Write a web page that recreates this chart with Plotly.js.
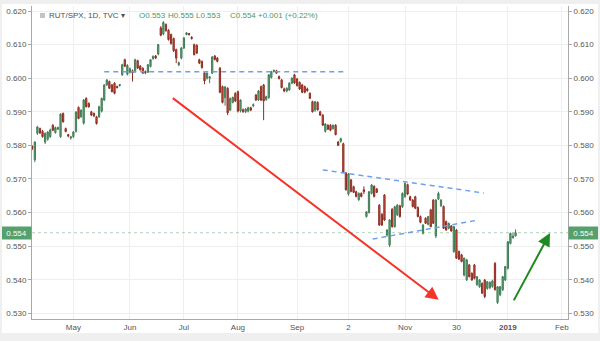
<!DOCTYPE html>
<html><head><meta charset="utf-8">
<script src="https://cdn.plot.ly/plotly-3.0.1.min.js"></script>
<style>
html,body{margin:0;padding:0;background:#efefef;width:600px;height:341px;overflow:hidden}
#chart{position:absolute;left:2px;top:4px;width:596px;height:329px;background:#fff}
</style></head><body><div id="chart"></div>
<script>
const startDate = '2018-04-09';
const holidays = ['2018-05-28','2018-07-04','2018-09-03','2018-11-22','2018-12-05','2018-12-25','2019-01-01','2019-01-21'];

const openVals = [
 // Apr
 .5797,.5757,.5836,.5850,.5842,.5810,.5818,.5826,.5860,.5838,.5848,.5826,.5895,.5850,.5832,.5822,
 // May
 .5826,.5842,.5913,.5885,.5866,.5940,.5925,.5900,.5895,.5885,.5885,.5902,.5935,.5980,.5990,.5980,.5985,.5975,.5978,.6010,.6055,.6012,
 // Jun
 .6018,.6022,.6020,.6052,.6036,.6030,.6020,.6018,.6035,.6058,.6066,.6072,.6150,.6132,.6160,.6143,.6130,.6118,.6085,.6040,.6060,
 // Jul
 .6090,.6130,.6133,.6122,.6100,.6098,.6055,.6050,.6016,.6000,.6000,.6015,.6066,.6060,.6030,.5975,.5942,.5970,.5905,.5928,.5955,
 // Aug
 .5960,.5903,.5906,.5900,.5902,.5912,.5918,.5950,.5935,.5975,.5980,.5936,.5942,.6002,.6020,.6022,.6005,.5995,.5968,.5962,.5965,.5985,.6010,
 // Sep
 .5998,.5988,.5980,.5975,.5968,.5955,.5930,.5905,.5928,.5900,.5890,.5842,.5860,.5860,.5850,.5860,.5810,.5812,.5805,
 // Oct
 .5718,.5655,.5697,.5677,.5662,.5638,.5657,.5668,.5588,.5600,.5657,.5678,.5670,.5622,.5595,.5652,.5533,.5503,.5610,.5558,.5593,.5620,.5617,
 // Nov
 .5647,.5683,.5647,.5637,.5647,.5615,.5588,.5538,.5583,.5565,.5608,.5637,.5530,.5640,.5620,.5618,.5573,.5553,.5560,.5484,.5548,
 // Dec
 .5484,.5474,.5414,.5400,.5444,.5419,.5444,.5385,.5379,.5389,.5399,.5374,.5376,.5380,.5449,.5332,.5355,.5370,.5399,
 // Jan
 .5434,.5508,.5525,.5530
];
const highVals = [
 .5800,.5812,.5858,.5853,.5846,.5838,.5842,.5850,.5863,.5856,.5856,.5896,.5898,.5853,.5834,.5828,
 .5842,.5902,.5916,.5907,.5938,.5943,.5928,.5903,.5898,.5888,.5918,.5942,.5982,.5997,.5993,.5983,.5988,.5978,.5983,.6043,.6058,.6042,
 .6032,.6026,.6058,.6055,.6039,.6032,.6023,.6042,.6057,.6068,.6069,.6102,.6155,.6170,.6163,.6146,.6133,.6121,.6088,.6050,.6093,
 .6123,.6137,.6135,.6125,.6103,.6101,.6058,.6053,.6019,.6017,.6006,.6066,.6069,.6063,.6033,.5978,.5977,.5973,.5942,.5945,.5958,
 .5963,.5937,.5910,.5911,.5915,.5915,.5925,.5953,.5965,.5978,.5983,.5948,.6012,.6022,.6026,.6025,.6008,.5998,.5972,.5973,.5988,.6003,.6013,
 .6000,.5990,.5983,.5978,.5972,.5958,.5933,.5932,.5931,.5903,.5893,.5866,.5863,.5863,.5862,.5863,.5813,.5823,.5808,
 .5721,.5718,.5700,.5680,.5665,.5660,.5660,.5678,.5604,.5664,.5685,.5681,.5673,.5625,.5598,.5655,.5550,.5580,.5613,.5620,.5625,.5623,.5660,
 .5690,.5686,.5650,.5640,.5650,.5618,.5591,.5565,.5586,.5590,.5611,.5640,.5640,.5662,.5640,.5621,.5576,.5570,.5563,.5560,.5551,
 .5487,.5477,.5466,.5462,.5447,.5422,.5447,.5411,.5402,.5392,.5402,.5396,.5395,.5400,.5452,.5381,.5381,.5411,.5441,
 .5515,.5540,.5540,.5550
];
const lowVals = [
 .5786,.5750,.5831,.5834,.5823,.5804,.5814,.5822,.5843,.5835,.5846,.5822,.5868,.5839,.5824,.5817,
 .5822,.5838,.5878,.5882,.5862,.5913,.5912,.5887,.5884,.5862,.5882,.5898,.5932,.5977,.5968,.5958,.5952,.5970,.5975,.6007,.6033,.6008,
 .6014,.5990,.6016,.6028,.6023,.6013,.6012,.6015,.6032,.6055,.6057,.6068,.6125,.6128,.6138,.6112,.6100,.6078,.6045,.6036,.6056,
 .6087,.6128,.6127,.6115,.6068,.6072,.6042,.6028,.5982,.5996,.5985,.6012,.6053,.6047,.5955,.5925,.5918,.5890,.5902,.5925,.5929,
 .5898,.5898,.5897,.5896,.5898,.5902,.5914,.5932,.5932,.5932,.5875,.5933,.5939,.5999,.6017,.6013,.5996,.5970,.5958,.5958,.5962,.5982,.5983,
 .5975,.5965,.5955,.5955,.5960,.5938,.5898,.5900,.5903,.5888,.5858,.5838,.5846,.5842,.5847,.5830,.5798,.5808,.5718,
 .5665,.5650,.5660,.5658,.5645,.5635,.5645,.5655,.5585,.5597,.5654,.5645,.5658,.5560,.5560,.5575,.5528,.5497,.5555,.5555,.5590,.5585,.5614,
 .5644,.5652,.5635,.5615,.5610,.5586,.5568,.5535,.5566,.5562,.5556,.5566,.5524,.5637,.5617,.5551,.5546,.5550,.5543,.5480,.5462,
 .5459,.5452,.5410,.5396,.5407,.5397,.5401,.5382,.5376,.5358,.5345,.5370,.5372,.5376,.5368,.5328,.5351,.5366,.5396,
 .5430,.5505,.5522,.5530
];
const closeVals = [
 .5791,.5810,.5855,.5837,.5826,.5836,.5840,.5846,.5845,.5853,.5853,.5893,.5870,.5841,.5828,.5825,
 .5840,.5899,.5880,.5905,.5935,.5915,.5915,.5890,.5888,.5865,.5915,.5940,.5980,.5995,.5970,.5960,.5955,.5972,.5981,.6040,.6036,.6038,
 .6028,.6016,.6055,.6030,.6025,.6015,.6016,.6040,.6055,.6065,.6060,.6100,.6128,.6166,.6142,.6115,.6103,.6082,.6060,.6046,.6090,
 .6120,.6135,.6130,.6118,.6070,.6075,.6045,.6032,.5992,.6015,.6004,.6063,.6056,.6050,.5958,.5928,.5974,.5897,.5940,.5943,.5932,
 .5902,.5935,.5900,.5908,.5912,.5905,.5921,.5935,.5962,.5935,.5932,.5945,.6010,.6020,.6023,.6015,.5999,.5972,.5962,.5970,.5985,.6000,.5986,
 .5978,.5968,.5958,.5958,.5963,.5940,.5900,.5930,.5906,.5890,.5860,.5864,.5848,.5845,.5860,.5832,.5800,.5820,.5720,
 .5668,.5715,.5663,.5660,.5648,.5657,.5648,.5662,.5602,.5662,.5682,.5648,.5660,.5563,.5563,.5578,.5548,.5578,.5558,.5617,.5622,.5588,.5657,
 .5687,.5655,.5637,.5618,.5613,.5588,.5571,.5563,.5568,.5588,.5558,.5568,.5637,.5657,.5637,.5553,.5548,.5568,.5545,.5558,.5464,
 .5461,.5454,.5464,.5459,.5409,.5399,.5404,.5409,.5399,.5360,.5350,.5394,.5392,.5396,.5370,.5379,.5379,.5409,.5439,
 .5513,.5538,.5530,.5540
];

const xTickVals = ['2018-05-01','2018-06-01','2018-07-02','2018-08-01','2018-09-04','2018-10-02','2018-11-01','2018-11-30','2019-01-02','2019-02-01'];
const xTickText = ['May','Jun','Jul','Aug','Sep','2','Nov','30','<b>2019</b>','Feb'];
const yTickVals = [0.53,0.54,0.55,0.56,0.57,0.58,0.59,0.60,0.61,0.62];
const lastPrice = 0.554;
const legendName = 'RUT/SPX, 1D, TVC \u25BE';
const legendOHLC = ['O0.553','H0.555','L0.553','C0.554','+0.001 (+0.22%)'];

function tradingDays(start, n) {
  const out = [];
  const d = new Date(start + 'T00:00:00Z');
  while (out.length < n) {
    const dow = d.getUTCDay();
    const s = d.toISOString().slice(0, 10);
    if (dow !== 0 && dow !== 6 && holidays.indexOf(s) < 0) out.push(s);
    d.setUTCDate(d.getUTCDate() + 1);
  }
  return out;
}
const dates = tradingDays(startDate, closeVals.length);

const yRange = [0.5283, 0.6215];
const green = '#55a06d';

const traces = [
  {
    type: 'candlestick', x: dates, open: openVals, high: highVals, low: lowVals, close: closeVals,
    increasing: {line: {color: '#3f7d54', width: 1}, fillcolor: '#6aa582'},
    decreasing: {line: {color: '#8e2d22', width: 1}, fillcolor: '#d25443'},
    whiskerwidth: 0, hoverinfo: 'skip', showlegend: false
  },
  {type: 'scatter', x: [dates[0]], y: [lastPrice], yaxis: 'y2', mode: 'markers',
   marker: {opacity: 0}, hoverinfo: 'skip', showlegend: false}
];

const px = p => (p - 32) / 536;
const py = p => (319 - p) / 313;

const blue = {color: '#6f9ff0', width: 1.5, dash: '5px,4px'};
const shapes = [
  {type: 'line', xref: 'x', yref: 'y', x0: '2018-05-17', x1: '2018-10-01', y0: 0.6019, y1: 0.6019, line: blue},
  {type: 'line', xref: 'x', yref: 'y', x0: '2018-09-18', x1: '2018-12-17 16:48', y0: 0.5727, y1: 0.5658, line: blue},
  {type: 'line', xref: 'x', yref: 'y', x0: '2018-10-15 09:36', x1: '2018-12-13 16:48', y0: 0.5521, y1: 0.5578, line: blue},
  {type: 'line', xref: 'paper', yref: 'y', x0: 0, x1: 1, y0: lastPrice, y1: lastPrice,
   line: {color: 'rgba(85,160,109,0.45)', width: 1, dash: 'dot'}},
  {type: 'rect', xref: 'paper', yref: 'paper', x0: px(40), x1: px(45), y0: py(18), y1: py(13),
   fillcolor: '#c4c4c4', line: {width: 0}}
];

const ohlcX = [137, 166, 194, 228, 256];
const annotations = [
  {xref: 'paper', yref: 'paper', x: px(47), y: py(15), xanchor: 'left', yanchor: 'middle',
   text: legendName, showarrow: false, font: {size: 8, color: '#505050'}},
  ...legendOHLC.map((t, i) => ({xref: 'paper', yref: 'paper', x: px(ohlcX[i]), y: py(15),
   xanchor: 'left', yanchor: 'middle', text: t, showarrow: false, font: {size: 8, color: '#4a9a66'}})),
  {xref: 'paper', yref: 'y', x: 0, y: lastPrice, xanchor: 'right', yanchor: 'middle', text: '0.554',
   showarrow: false, font: {size: 8, color: '#fff'}, bgcolor: green, width: 27, height: 10, borderpad: 1},
  {xref: 'paper', yref: 'y', x: 1, y: lastPrice, xanchor: 'left', yanchor: 'middle', text: '0.554',
   showarrow: false, font: {size: 8, color: '#fff'}, bgcolor: green, width: 27, height: 10, borderpad: 1},
  {xref: 'x', yref: 'y', axref: 'x', ayref: 'y', x: '2018-11-20 02:24', y: 0.5340,
   ax: '2018-06-25 02:24', ay: 0.5944, text: '', showarrow: true, arrowhead: 2, arrowsize: 1.3,
   arrowwidth: 2, arrowcolor: '#f5332a', standoff: 0},
  {xref: 'x', yref: 'y', axref: 'x', ayref: 'y', x: '2019-01-25 09:36', y: 0.5539,
   ax: '2019-01-04', ay: 0.5334, text: '', showarrow: true, arrowhead: 2, arrowsize: 1.3,
   arrowwidth: 2, arrowcolor: '#1f8a1f', standoff: 0}
];

const yCommon = {
  range: yRange, tickvals: yTickVals, tickformat: '.3f', tickfont: {size: 8, color: '#555'},
  ticks: 'outside', ticklen: 3, tickcolor: '#a8a8a8', showline: true, linecolor: '#a8a8a8',
  linewidth: 1, zeroline: false, fixedrange: true
};

const layout = {
  width: 596, height: 329,
  margin: {l: 30, r: 30, t: 2, b: 14},
  paper_bgcolor: '#ffffff', plot_bgcolor: '#ffffff',
  font: {family: 'Liberation Sans, Arial, sans-serif', size: 8, color: '#555'},
  showlegend: false,
  xaxis: {
    type: 'date', range: ['2018-04-06 21:36', '2019-02-05 09:36'],
    rangebreaks: [{bounds: ['sat', 'mon']}, {values: holidays}],
    tickvals: xTickVals, ticktext: xTickText, tickfont: {size: 8, color: '#555'},
    showgrid: true, gridcolor: '#eeeeee', showline: true, linecolor: '#a8a8a8', linewidth: 1,
    ticks: '', zeroline: false, rangeslider: {visible: false}, fixedrange: true
  },
  yaxis: Object.assign({}, yCommon, {side: 'left', showgrid: true, gridcolor: '#eeeeee'}),
  yaxis2: Object.assign({}, yCommon, {side: 'right', overlaying: 'y', showgrid: false}),
  shapes: shapes,
  annotations: annotations
};

Plotly.newPlot('chart', traces, layout, {staticPlot: true, displayModeBar: false});
</script></body></html>
